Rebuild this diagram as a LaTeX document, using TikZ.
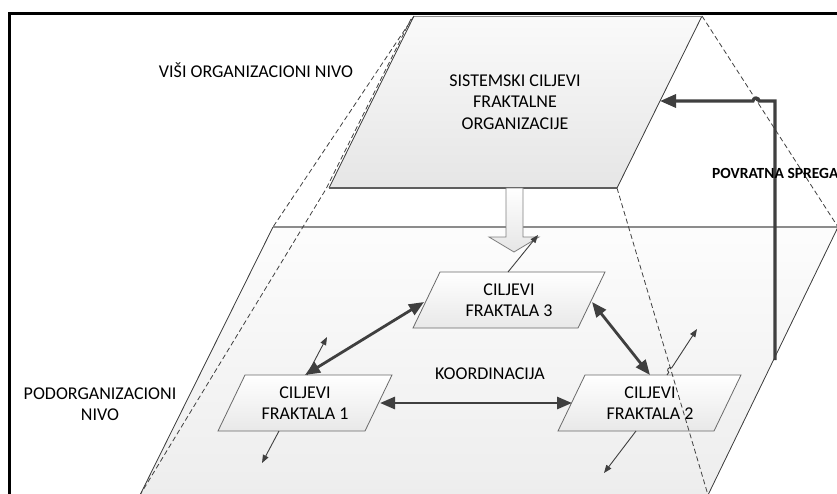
\documentclass[tikz,border=0pt]{standalone}
\usepackage{fontspec}
\setmainfont{Carlito}
\usetikzlibrary{arrows.meta}
\definecolor{edgec}{HTML}{404040}
\definecolor{arrowc}{HTML}{3F3F3F}
\definecolor{boxline}{HTML}{6A6A6A}
\definecolor{rimc}{HTML}{8C8C8C}
\begin{document}
\begin{tikzpicture}[x=1pt,y=-1pt,
  lbl/.style={font=\fontsize{18}{21.5}\selectfont, align=center, inner sep=0pt},
  planeside/.style={draw=edgec, line width=0.8pt},
  goalbox/.style={draw=boxline, line width=0.8pt, top color=white, bottom color=black!9},
  hidden/.style={draw=edgec, line width=0.8pt, dash pattern=on 5pt off 3pt},
  link/.style={draw=arrowc, line width=2.8pt,
    {Triangle[length=15pt,width=12pt]}-{Triangle[length=15pt,width=12pt]}},
  spoke/.style={draw=arrowc, line width=0.9pt, -{Triangle[length=8pt,width=6pt]}},
  feedback/.style={draw=arrowc, line width=3.2pt, -{Triangle[length=16pt,width=13pt]}},
]
\useasboundingbox (0,0) rectangle (837,493);
\clip (0,0) rectangle (837,493);

% corners of the two planes
\coordinate (uTL) at (414,16);  \coordinate (uTR) at (702,16);
\coordinate (uBR) at (617,188); \coordinate (uBL) at (329,188);
\coordinate (lTL) at (273,227); \coordinate (lTR) at (838,227);
\coordinate (lBR) at (708,495); \coordinate (lBL) at (140,495);

% lower plane
\fill[top color=black!1, bottom color=black!7] (lTL) -- (lTR) -- (lBR) -- (lBL) -- cycle;
\draw[planeside] (lTL) -- (lBL);
\draw[planeside] (lTR) -- (lBR);
\draw[draw=rimc, line width=1.5pt] (lTL) -- (lTR);

% upper plane
\fill[top color=black!2, bottom color=black!10] (uTL) -- (uTR) -- (uBR) -- (uBL) -- cycle;
\draw[planeside] (uTL) -- (uBL);
\draw[planeside] (uTR) -- (uBR);
\draw[draw=rimc, line width=1pt] (uTL) -- (uTR);
\draw[draw=edgec!85, line width=1.2pt] (uBL) -- (uBR);
\node[lbl] (upper) at (515,102) {SISTEMSKI CILJEVI\\FRAKTALNE\\ORGANIZACIJE};

% hollow arrow from the upper plane down to the lower one
\draw[draw=black!50, line width=0.8pt, top color=white, bottom color=black!10]
  (506,188) -- (523,188) -- (523,237) -- (539,237) -- (514,252) -- (489,237) -- (506,237) -- cycle;

% goal boxes
\draw[goalbox] (440,272) -- (605,272) -- (578,328) -- (413,328) -- cycle;
\node[lbl] (f3) at (509,300) {CILJEVI\\FRAKTALA 3};
\draw[goalbox] (245,375) -- (392,375) -- (365,431) -- (218,431) -- cycle;
\node[lbl] (f1) at (305,403) {CILJEVI\\FRAKTALA 1};
\draw[goalbox] (585,375) -- (741,375) -- (714,431) -- (558,431) -- cycle;
\node[lbl] (f2) at (650,403) {CILJEVI\\FRAKTALA 2};

% hidden edges joining the planes
\coordinate (dA) at (411,19);
\coordinate (dB) at (326,189);
\draw[hidden] (uTL) -- (lTL);
\draw[hidden] (dA) -- (dB) -- (lBL);
\draw[hidden] (uTR) -- (lTR);
\draw[hidden] (uBR) -- (lBR);

% coordination links between the boxes
\coordinate (f1t) at (305,375);  \coordinate (f3l) at (424,302);
\coordinate (f3r) at (592,302);  \coordinate (f2t) at (650,375);
\coordinate (f1r) at (380,403);  \coordinate (f2l) at (572,403);
\draw[link] (f1t) -- (f3l);
\draw[link] (f3r) -- (f2t);
\draw[link] (f1r) -- (f2l);

% outward spokes of each box
\coordinate (s1a) at (307,375); \coordinate (s1b) at (327,337);
\coordinate (s2a) at (279,431); \coordinate (s2b) at (262,463);
\coordinate (s3a) at (508,272); \coordinate (s3b) at (538,235);
\coordinate (s4a) at (667,375); \coordinate (s4b) at (697,329);
\coordinate (s4h) at (668.8,372.3);
\coordinate (s5a) at (636,431); \coordinate (s5b) at (604,473);
\draw[spoke] (s1a) -- (s1b);
\draw[spoke] (s2a) -- (s2b);
\draw[spoke] (s3a) -- (s3b);
\draw[spoke] (s4a) -- (s4h) arc[start angle=123.1, end angle=303.1, radius=2.6] -- (s4b);
\draw[spoke] (s5a) -- (s5b);

\node[lbl] (koord) at (490,374) {KOORDINACIJA};

% feedback loop from the lower plane back to the upper one
\coordinate (fbs) at (775,360);
\coordinate (fbc) at (775,101);
\coordinate (fbh) at (759,101);
\coordinate (fbe) at (660,101);
\draw[feedback] (fbs) -- (fbc) -- (fbh) arc[start angle=0, end angle=-180, radius=3] -- (fbe);
\node[font=\fontsize{15.5}{18}\bfseries, inner sep=0pt, anchor=west] (spreg) at (712,173) {POVRATNA SPREGA};

% level labels
\node[lbl] (visi) at (256,70) {VIŠI ORGANIZACIONI NIVO};
\node[lbl] (podo) at (100,404) {PODORGANIZACIONI\\NIVO};

% frame
\draw[line width=3pt, black] (9.5,520) -- (9.5,13.2) -- (860,13.2);
\end{tikzpicture}
\end{document}
